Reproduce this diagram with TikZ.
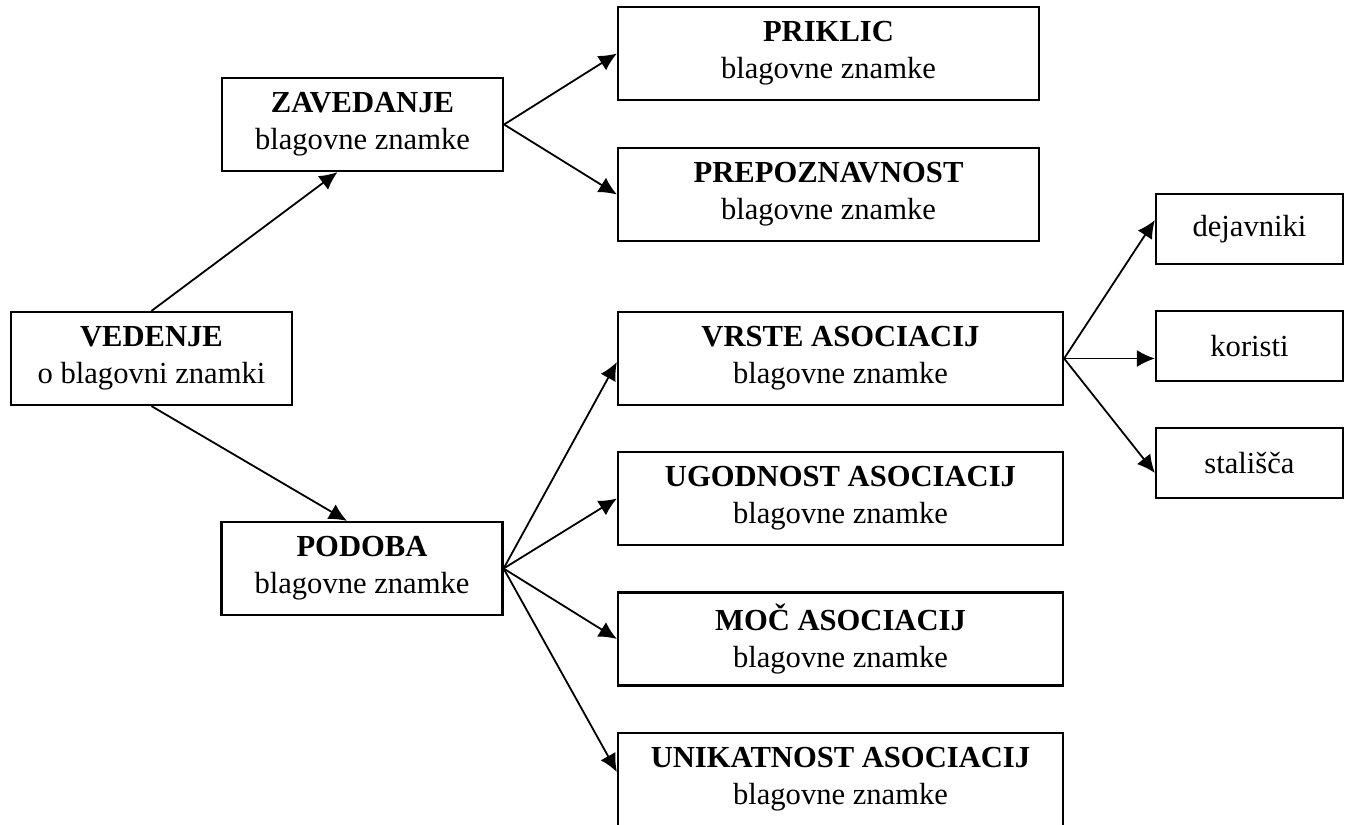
\documentclass[tikz,border=0pt]{standalone}
\usepackage{fontspec}
\setmainfont{Liberation Serif}
\usetikzlibrary{arrows.meta}
\begin{document}
\begin{tikzpicture}[x=0.5pt,y=-0.5pt,
  box/.style={draw,line width=1.1pt,inner sep=0pt,align=center,font=\fontsize{15.3}{18.5}\selectfont},
  wide/.style={box,minimum width=140.5pt,minimum height=46.5pt},
  right1/.style={box,minimum width=210.5pt,minimum height=46.5pt},
  right2/.style={box,minimum width=222.5pt,minimum height=46.5pt},
  small/.style={box,minimum width=93.5pt,minimum height=35pt},
  arr/.style={line width=0.9pt,-{Latex[length=9pt,width=8.5pt]}}]
\useasboundingbox (0,0) rectangle (1351,825);
\node[wide] (ved) at (151.5,358.5) {\textbf{VEDENJE}\\o blagovni znamki};
\node[wide] (zav) at (362.5,124.5) {\textbf{ZAVEDANJE}\\blagovne znamke};
\node[wide] (pod) at (362,568.5) {\textbf{PODOBA}\\blagovne znamke};
\node[right1] (pri) at (828.5,53.5) {\textbf{PRIKLIC}\\blagovne znamke};
\node[right1] (pre) at (828.5,194.5) {\textbf{PREPOZNAVNOST}\\blagovne znamke};
\node[right2] (vrs) at (840.5,358.5) {\textbf{VRSTE ASOCIACIJ}\\blagovne znamke};
\node[right2] (ugo) at (840.5,498.5) {\textbf{UGODNOST ASOCIACIJ}\\blagovne znamke};
\node[right2] (moc) at (840.5,639) {\textbf{MOČ ASOCIACIJ}\\blagovne znamke};
\node[right2] (uni) at (840.5,779.5) {\textbf{UNIKATNOST ASOCIACIJ}\\blagovne znamke};
\node[small] (dej) at (1249.5,229) {dejavniki};
\node[small] (kor) at (1249.5,346) {koristi};
\node[small] (sta) at (1249.5,463) {stališča};
\draw[arr] (ved.north) -- ([xshift=-12.5pt]zav.south);
\draw[arr] (ved.south) -- ([xshift=-7.5pt]pod.north);
\draw[arr] (zav.east) -- (pri.west);
\draw[arr] (zav.east) -- (pre.west);
\draw[arr] (pod.east) -- ([yshift=-1.75pt]vrs.west);
\draw[arr] (pod.east) -- (ugo.west);
\draw[arr] (pod.east) -- (moc.west);
\draw[arr] (pod.east) -- ([yshift=3.75pt]uni.west);
\draw[arr] (vrs.east) -- ([yshift=4.5pt]dej.west);
\draw[arr] (vrs.east) -- (vrs.east -| kor.west);
\draw[arr] (vrs.east) -- ([yshift=-5pt]sta.west);
\end{tikzpicture}
\end{document}
